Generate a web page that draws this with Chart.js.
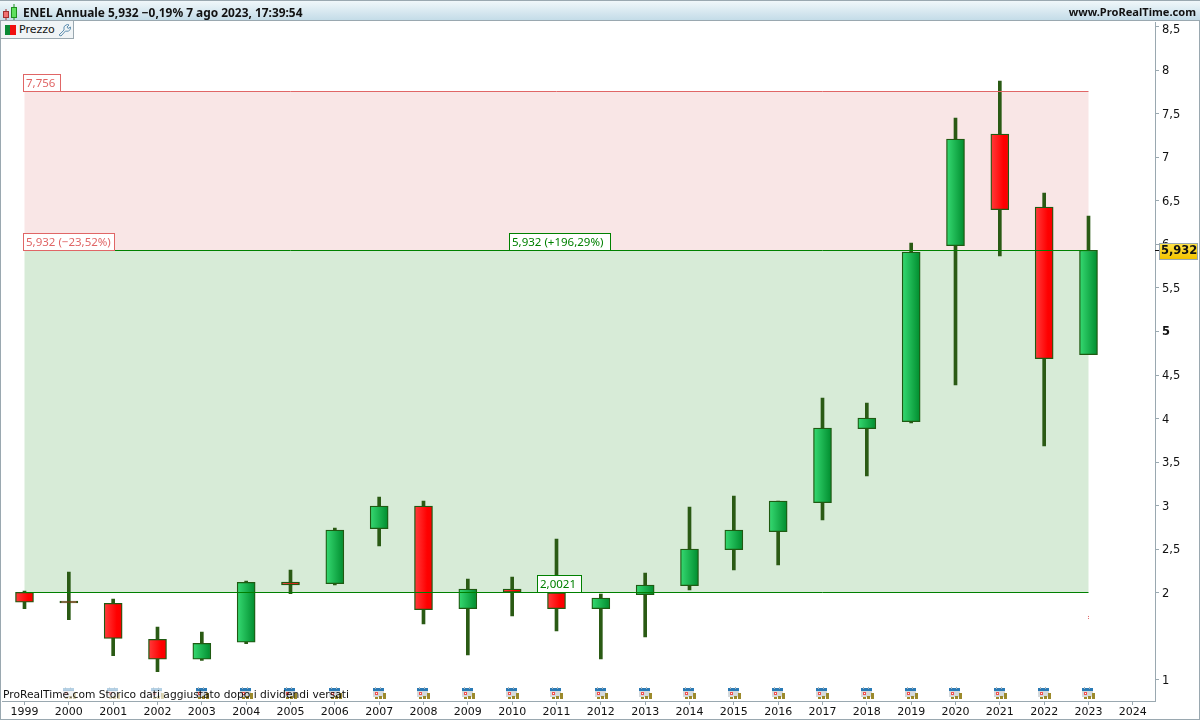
<!DOCTYPE html>
<html>
<head>
<meta charset="utf-8">
<title>ENEL Annuale</title>
<script src="https://cdn.jsdelivr.net/npm/chart.js@4/dist/chart.umd.js"></script>
<style>
    body { margin: 0; background: #fff; font-family: "DejaVu Sans", sans-serif; overflow: hidden; }
    #wrap { position: relative; width: 1200px; height: 720px; }
    canvas { position: absolute; left: 0; top: 0; }
    #header {
        position: absolute; left: 0; top: 0; width: 1200px; height: 21px; box-sizing: border-box;
        background: linear-gradient(#f0f7fa, #c4dce8);
        border-top: 1px solid #9aa8b0; border-bottom: 1px solid #9aa8b0;
        font-family: "Noto Sans", sans-serif; font-weight: bold; color: #111; line-height: 22px;
    }
    #header svg { position: absolute; left: 0; top: 0; }
    #title { position: absolute; left: 23px; top: 0; white-space: nowrap; font-size: 11.9px; }
    #site { position: absolute; right: 4px; top: 0; white-space: nowrap; font-size: 11.1px; }
    #legend {
        position: absolute; left: 0; top: 21px; width: 74px; height: 18px; box-sizing: border-box;
        background: #f0f4f6; border: 1px solid #9aa8b0; border-top: none;
        font-size: 11px; color: #111; line-height: 18px;
    }
    #legend svg { position: absolute; left: 4px; top: 4px; }
    #legend span { position: absolute; left: 18px; top: 0; }
    #wrench { left: 57px !important; top: 2px !important; }
</style>
</head>
<body>
<div id="wrap">
    <canvas id="chart" width="1200" height="720"></canvas>
    <div id="header">
        <svg width="20" height="20">
            <line x1="6" y1="8" x2="6" y2="19" stroke="#a03030"/>
            <rect x="3.5" y="10.5" width="5" height="6" fill="#f07070" stroke="#a03030"/>
            <line x1="14" y1="3" x2="14" y2="19" stroke="#209020"/>
            <rect x="11.5" y="6.5" width="5" height="10" fill="#60e060" stroke="#209020"/>
        </svg>
        <span id="title">ENEL Annuale 5,932 −0,19% 7 ago 2023, 17:39:54</span>
        <span id="site">www.ProRealTime.com</span>
    </div>
    <div id="legend">
        <svg width="11" height="10"><rect width="5" height="10" fill="#0a8a35"/><rect x="5" width="6" height="10" fill="#f01010"/></svg>
        <span>Prezzo</span>
        <svg id="wrench" width="14" height="14" viewBox="0 0 14 14"><path d="M1 12 L6 7 Q5 3 8 2 Q10 1 11 2 L9 4 L10 5.5 L12.5 4 Q13 7 10.5 8 Q9 8.5 7.5 8 L3 13 Z" fill="none" stroke="#5f8fb0"/></svg>
    </div>
</div>
<script>
// Annual candles
const years = ["1999", "2000", "2001", "2002", "2003", "2004", "2005", "2006", "2007", "2008", "2009", "2010", "2011", "2012", "2013", "2014", "2015", "2016", "2017", "2018", "2019", "2020", "2021", "2022", "2023", "2024"];
const opens = [2.006, 1.907, 1.880, 1.467, 1.238, 1.433, 2.124, 2.105, 2.736, 2.997, 1.818, 2.044, 2.002, 1.818, 1.979, 2.082, 2.495, 2.702, 3.035, 3.884, 3.964, 5.984, 7.266, 6.428, 4.733];
const closes = [1.892, 1.884, 1.478, 1.238, 1.421, 2.121, 2.092, 2.721, 2.997, 1.807, 2.044, 2.006, 1.818, 1.941, 2.090, 2.503, 2.721, 3.054, 3.892, 4.007, 5.912, 7.208, 6.397, 4.687, 5.932];
const highs = [2.021, 2.239, 1.929, 1.608, 1.551, 2.136, 2.262, 2.744, 3.100, 3.054, 2.159, 2.182, 2.618, 1.987, 2.228, 2.985, 3.112, 3.054, 4.236, 4.179, 6.015, 7.449, 7.874, 6.589, 6.325];
const lows = [1.818, 1.692, 1.279, 1.095, 1.226, 1.417, 1.990, 2.090, 2.538, 1.643, 1.287, 1.734, 1.562, 1.241, 1.494, 2.033, 2.262, 2.320, 2.836, 3.341, 3.949, 4.385, 5.866, 3.685, 5.932];

// Price axis and horizontal levels
const priceTicks = [1, 2, 2.5, 3, 3.5, 4, 4.5, 5, 5.5, 6, 6.5, 7, 7.5, 8, 8.5];
const topLevel = 7.756;
const lastLevel = 5.932;
const bottomLevel = 2.0021;
const stopDots = [1.735, 1.712];

const comma = (v) => String(v).replace(".", ",");

function candleFill(ctx) {
    const i = ctx.dataIndex;
    const chart = ctx.chart;
    const rising = closes[i] > opens[i];
    const x = chart.scales.x ? chart.scales.x.getPixelForValue(i) : NaN;
    // scales have no pixels yet on the very first resolve
    if (!Number.isFinite(x)) return rising ? "#1cb350" : "#ff1010";
    const g = chart.ctx.createLinearGradient(x - 9, 0, x + 9, 0);
    if (rising) {
        g.addColorStop(0, "#36da72");
        g.addColorStop(1, "#008c2e");
    } else {
        g.addColorStop(0, "#ff3c3c");
        g.addColorStop(0.7, "#ff0000");
        g.addColorStop(1, "#fa0000");
    }
    return g;
}

// Nudge the price labels: 1px down, the top one clear of the header
const labelNudge = {
    id: "labelNudge",
    beforeDraw(chart) {
        const y = chart.scales.y;
        y.getLabelItems().forEach((item) => {
            if (item.nudged) return;
            item.nudged = true;
            item.options.translation[1] += item.label === "8,5" ? 3.5 : 1;
        });
    },
};

// Coloured zones go under the candles
const zones = {
    id: "zones",
    beforeDatasetsDraw(chart) {
        const c = chart.ctx, x = chart.scales.x, y = chart.scales.y;
        const x0 = x.getPixelForValue(0), x1 = x.getPixelForValue(24);
        c.save();
        c.fillStyle = "#f9e6e6";
        c.fillRect(x0, y.getPixelForValue(topLevel), x1 - x0, y.getPixelForValue(lastLevel) - y.getPixelForValue(topLevel));
        c.fillStyle = "#d7ebd7";
        c.fillRect(x0, y.getPixelForValue(lastLevel), x1 - x0, y.getPixelForValue(bottomLevel) - y.getPixelForValue(lastLevel));
        c.restore();
    },
};

function tagBox(c, text, left, bottom, w, color) {
    c.fillStyle = "#fff";
    c.fillRect(left, bottom - 17, w, 17);
    c.strokeStyle = color;
    c.lineWidth = 1;
    c.strokeRect(left + 0.5, bottom - 17 + 0.5, w - 1, 17);
    c.fillStyle = color;
    c.fillText(text, left + 3, bottom - 7.5);
}

function drawCalendar(c, x, alpha) {
    c.save();
    c.globalAlpha = alpha;
    c.fillStyle = "#d5dadd";
    c.fillRect(x - 6, 690, 11, 7);
    c.fillStyle = "#2a7ab5";
    c.fillRect(x - 6, 688, 11, 3);
    c.fillStyle = "#a9b4ba";
    c.fillRect(x - 4, 687, 1, 2);
    c.fillRect(x + 1, 687, 1, 2);
    c.fillStyle = "#f05050";
    c.fillRect(x - 4, 692, 3, 3);
    c.fillStyle = "#fff";
    c.fillRect(x - 3, 693, 1, 1);
    c.fillStyle = "#9c8a2c";
    c.fillRect(x - 4, 697, 3, 2);
    c.fillRect(x, 696, 3, 3);
    c.fillRect(x + 4, 693, 3, 6);
    c.restore();
}

// Lines, labels and frame go on top of everything
const overlay = {
    id: "overlay",
    afterDraw(chart) {
        const c = chart.ctx, x = chart.scales.x, y = chart.scales.y;
        const x0 = x.getPixelForValue(0), x1 = x.getPixelForValue(24);
        const line = (v, color) => {
            const py = Math.floor(y.getPixelForValue(v)) + 0.5;
            c.strokeStyle = color;
            c.lineWidth = 1;
            c.beginPath();
            c.moveTo(x0, py);
            c.lineTo(x1, py);
            c.stroke();
        };
        c.save();
        line(topLevel, "#e06666");
        line(lastLevel, "#008000");
        line(bottomLevel, "#008000");

        c.font = "11.5px 'Noto Sans'";
        c.textBaseline = "middle";
        c.textAlign = "left";
        const yTop = Math.floor(y.getPixelForValue(topLevel));
        const yLast = Math.floor(y.getPixelForValue(lastLevel));
        const yBottom = Math.floor(y.getPixelForValue(bottomLevel));
        tagBox(c, "7,756", 23, yTop, 38, "#e06666");
        tagBox(c, "5,932 (−23,52%)", 23, yLast, 92, "#e06666");
        tagBox(c, "5,932 (+196,29%)", 509, yLast, 102, "#008000");
        tagBox(c, "2,0021", 537, yBottom, 45, "#008000");

        // Small stop marks right of the last candle level
        c.fillStyle = "#e06666";
        stopDots.forEach((v) => c.fillRect(x1 - 0.5, y.getPixelForValue(v), 1, 1));

        // Calendar icons under the candles
        for (let i = 1; i < 25; i++) {
            drawCalendar(c, Math.round(x.getPixelForValue(i)), i < 4 ? 0.35 : 1);
        }

        c.fillStyle = "#111";
        c.font = "10.7px 'DejaVu Sans'";
        c.fillText("ProRealTime.com Storico dati aggiustato dopo i dividendi versati", 3, 695);

        // Last price tag on the axis
        const py = Math.floor(y.getPixelForValue(lastLevel)) + 0.5;
        c.strokeStyle = "#111";
        c.beginPath();
        c.moveTo(1155, py);
        c.lineTo(1159, py);
        c.stroke();
        const g = c.createLinearGradient(0, py - 8, 0, py + 8);
        g.addColorStop(0, "#ffe44d");
        g.addColorStop(1, "#f4c400");
        c.fillStyle = g;
        c.fillRect(1159, py - 7.5, 39, 16);
        c.strokeStyle = "#9aa8b0";
        c.strokeRect(1159.5, py - 7, 38, 16);
        c.fillStyle = "#111";
        c.font = "bold 11.5px 'DejaVu Sans'";
        c.fillText("5,932", 1161, py + 1);

        // Window frame
        c.strokeStyle = "#9aa8b0";
        c.strokeRect(0.5, 20.5, 1199, 699);
        c.restore();
    },
};

new Chart(document.getElementById("chart"), {
    data: {
        labels: years,
        datasets: [
            {
                type: "bar",
                label: "Corpo",
                data: opens.map((o, i) => [o, closes[i]]),
                barThickness: 18,
                backgroundColor: candleFill,
                borderColor: "#1f5a12",
                borderWidth: 1.3,
                borderSkipped: false,
                grouped: false,
                order: 1,
            },
            {
                type: "bar",
                label: "Ombra",
                data: lows.map((l, i) => [l, highs[i]]),
                barThickness: 3,
                backgroundColor: "#2a5a14",
                grouped: false,
                order: 2,
            },
        ],
    },
    options: {
        responsive: false,
        animation: false,
        layout: { padding: { top: 22, left: 2.33, right: 0, bottom: 0 } },
        plugins: { legend: { display: false }, tooltip: { enabled: false } },
        scales: {
            x: {
                grid: { drawOnChartArea: false, offset: false, tickLength: 4, color: "#9aa8b0" },
                border: { color: "#9aa8b0" },
                ticks: { autoSkip: false, maxRotation: 0, padding: 1, color: "#111", font: { family: "DejaVu Sans", size: 11 } },
                afterFit(scale) { scale.height = 19; },
            },
            y: {
                position: "right",
                min: 0.759,
                max: 8.551,
                grid: { drawOnChartArea: false, tickLength: 4, color: "#9aa8b0" },
                border: { color: "#9aa8b0" },
                afterBuildTicks(scale) { scale.ticks = priceTicks.map((v) => ({ value: v })); },
                ticks: {
                    padding: 3,
                    color: "#111",
                    font: (ctx) => ({ family: "DejaVu Sans", size: 11.5, weight: ctx.tick && ctx.tick.value === 5 ? "bold" : "normal" }),
                    callback: (v) => comma(v),
                },
                afterFit(scale) { scale.width = 45; },
            },
        },
    },
    plugins: [labelNudge, zones, overlay],
});
</script>
</body>
</html>
